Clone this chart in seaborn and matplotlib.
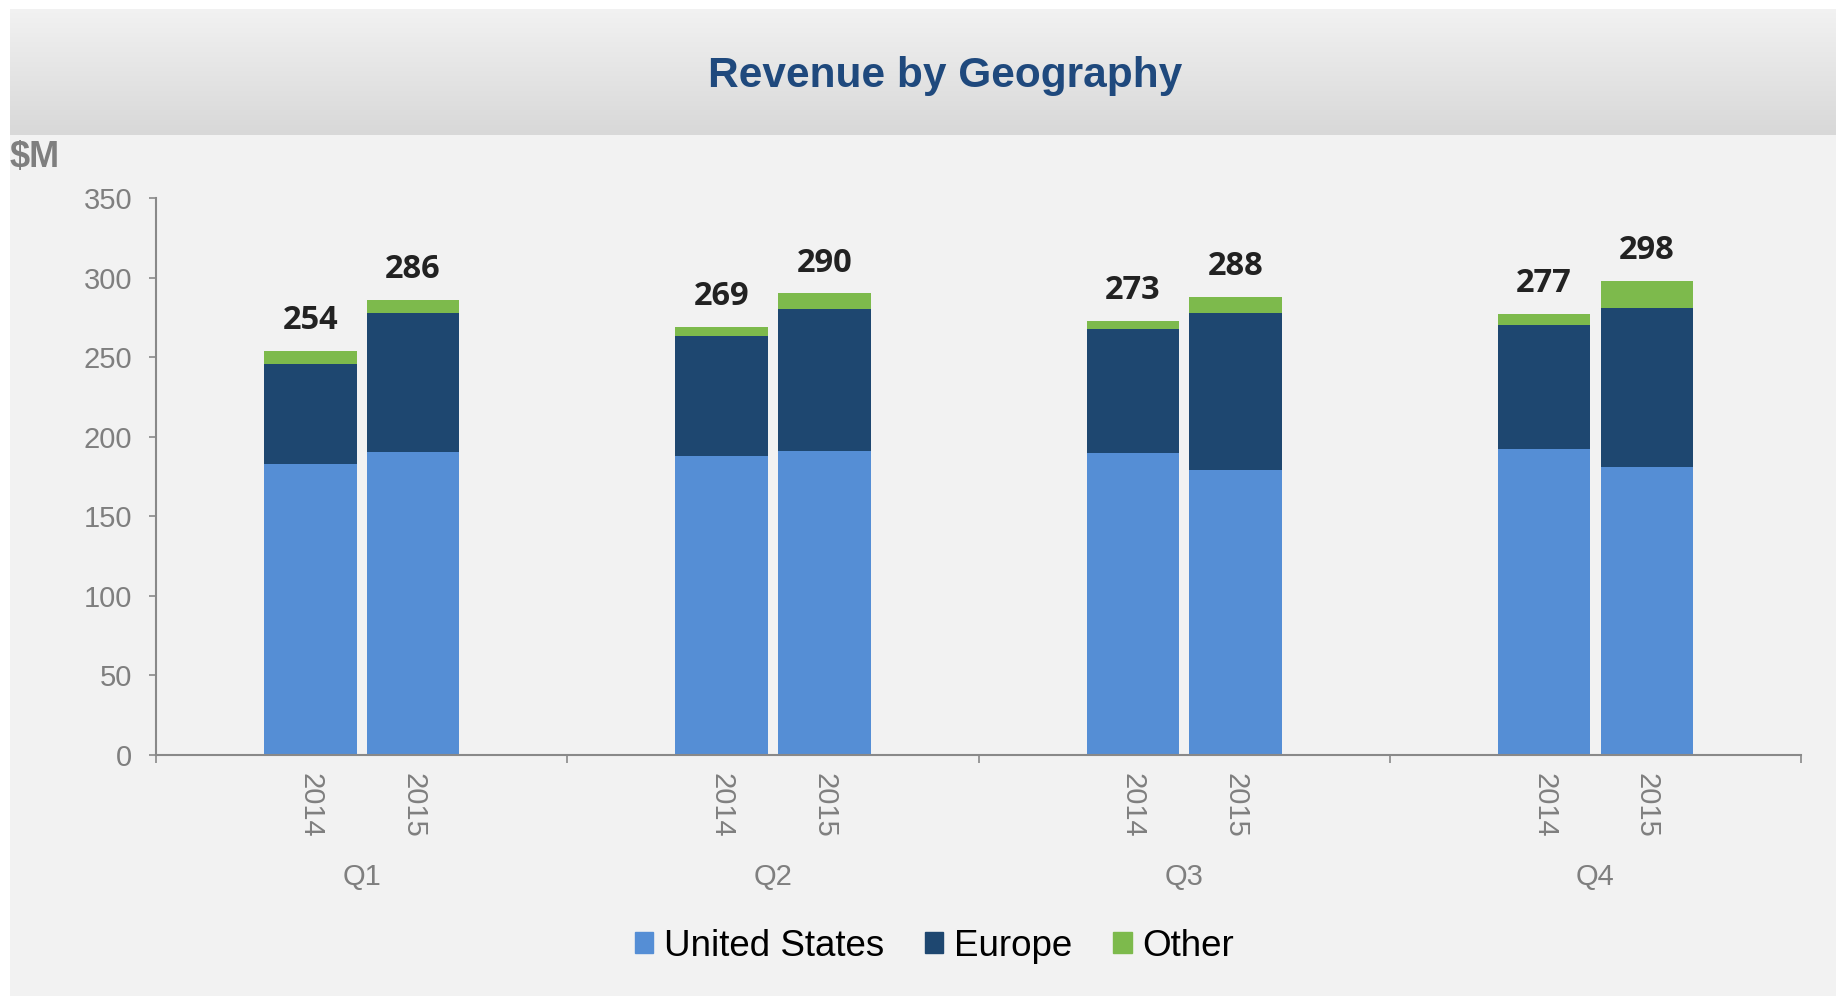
import numpy as np
import pandas as pd
import matplotlib.pyplot as plt
import seaborn as sns
from matplotlib.patches import Patch
from matplotlib.colors import LinearSegmentedColormap

quarters = ['Q1', 'Q2', 'Q3', 'Q4']
years = ['2014', '2015']
us_2014 = [183, 188, 190, 192]
us_2015 = [190.5, 191, 179, 181]
europe_2014 = [62.5, 75.5, 78, 78.5]
europe_2015 = [87, 89.5, 99, 100]
other_2014 = [8.5, 5.5, 5, 6.5]
other_2015 = [8.5, 9.5, 10, 17]

rows = []
for i, q in enumerate(quarters):
    rows.append({'quarter': q, 'year': '2014', 'us': us_2014[i], 'europe': europe_2014[i], 'other': other_2014[i]})
    rows.append({'quarter': q, 'year': '2015', 'us': us_2015[i], 'europe': europe_2015[i], 'other': other_2015[i]})
df = pd.DataFrame(rows)
df['us_eu'] = df['us'] + df['europe']
df['total'] = df['us_eu'] + df['other']

light_blue = '#558ed5'
dark_blue = '#1e4770'
green = '#7dba4c'
gray = '#7f7f7f'

sns.set_theme(style='white')
plt.rcParams['font.family'] = ['Liberation Sans', 'DejaVu Sans']

fig = plt.figure(figsize=(18.36, 9.99), dpi=100, facecolor='white')

# light grey panel + gradient title band
bg = fig.add_axes([10 / 1836, 3 / 999, 1 - 10 / 1836, 987 / 999], zorder=-2)
bg.set_facecolor('#f2f2f2')
bg.set_xticks([])
bg.set_yticks([])
for s in bg.spines.values():
    s.set_visible(False)

band = fig.add_axes([10 / 1836, 1 - 135 / 999, 1 - 10 / 1836, 126 / 999], zorder=-1)
grad = np.linspace(0, 1, 256).reshape(-1, 1)
band.imshow(grad, aspect='auto', extent=[0, 1, 0, 1],
            cmap=LinearSegmentedColormap.from_list('band', ['#f2f2f2', '#d8d8d8']))
band.axis('off')

ax = fig.add_axes([0.085, 0.2442, 0.896, 0.5576])
ax.set_facecolor('none')

# stacked bars: draw cumulative heights back to front
for col, color in [('total', green), ('us_eu', dark_blue), ('us', light_blue)]:
    sns.barplot(data=df, x='quarter', y=col, hue='year', order=quarters, hue_order=years,
                palette={y: color for y in years}, width=0.5, gap=0.1, errorbar=None,
                legend=False, saturation=1, linewidth=0, ax=ax)

for cont in ax.containers[:2]:
    ax.bar_label(cont, fmt='{:.0f}', padding=10, fontsize=23.5, fontweight='bold',
                 family='Open Sans', color='#222222')

pairs = []
for cont, yr in zip(ax.containers[:2], years):
    for p in cont:
        pairs.append((p.get_x() + p.get_width() / 2, yr))
pairs.sort()
ax.set_xticks([c for c, _ in pairs])
ax.set_xticklabels([y for _, y in pairs], rotation=-90)
ax.set_xticks(np.arange(-0.5, len(quarters), 1), minor=True)
ax.set_xlim(-0.5, len(quarters) - 0.5)

for i, q in enumerate(quarters):
    c = (pairs[2 * i][0] + pairs[2 * i + 1][0]) / 2
    ax.annotate(q, xy=(c, 0), xycoords=('data', 'axes fraction'), xytext=(0, -78),
                textcoords='offset points', ha='center', va='top', fontsize=21, color=gray)

ax.set_ylim(0, 350)
ax.set_yticks(range(0, 351, 50))
ax.set_xlabel('')
ax.set_ylabel('')
ax.tick_params(axis='y', labelsize=21, labelcolor=gray, length=5, width=1.2, color='#898989',
               pad=12, left=True)
ax.tick_params(axis='x', which='major', labelsize=21, labelcolor=gray, length=0, pad=13)
ax.tick_params(axis='x', which='minor', length=6, width=1.2, color='#898989', bottom=True)
for side in ['top', 'right']:
    ax.spines[side].set_visible(False)
for side in ['left', 'bottom']:
    ax.spines[side].set_color('#898989')
    ax.spines[side].set_linewidth(1.5)

fig.text(10 / 1836, 1 - 157 / 999, '$M', fontsize=26, fontweight='bold', color=gray,
         ha='left', va='center')
fig.text(945 / 1836, 1 - 76.5 / 999, 'Revenue by Geography', fontsize=30.5, fontweight='bold',
         color='#1f497d', ha='center', va='center')

handles = [Patch(color=light_blue), Patch(color=dark_blue), Patch(color=green)]
fig.legend(handles, ['United States', 'Europe', 'Other'], loc='center',
           bbox_to_anchor=(0.509, 0.053), ncol=3, frameon=False, fontsize=26.5,
           handlelength=0.5, handleheight=0.5, handletextpad=0.3, columnspacing=1.1,
           labelcolor='black')

fig.savefig('out.png', dpi=100, facecolor=fig.get_facecolor())
